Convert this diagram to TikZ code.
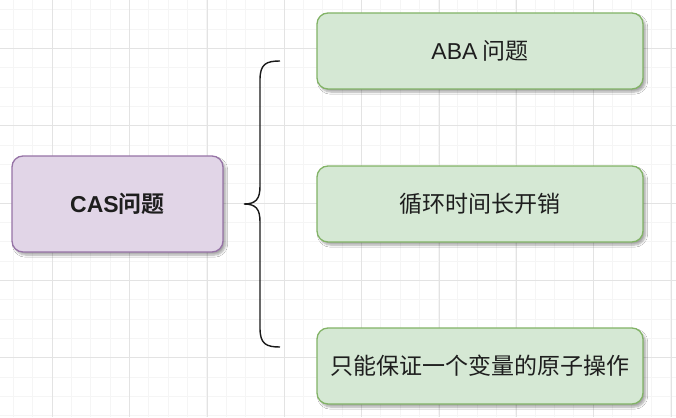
\documentclass[tikz,border=0pt]{standalone}
\usepackage{fontspec}
\setmainfont{Noto Sans CJK SC}[BoldFont={Noto Sans CJK SC Bold}]
\newfontfamily\latinfont{Liberation Sans}
\usetikzlibrary{shadows.blur}
\definecolor{purfill}{HTML}{E1D5E7}
\definecolor{purline}{HTML}{9673A6}
\definecolor{grnfill}{HTML}{D5E8D4}
\definecolor{grnline}{HTML}{82B366}
\definecolor{minorgrid}{HTML}{F5F5F5}
\definecolor{majorgrid}{HTML}{E3E3E3}
\definecolor{txt}{HTML}{1E1E1E}
\tikzset{
  boxshadow/.style={blur shadow={shadow xshift=2.5pt, shadow yshift=-3pt, shadow blur steps=6, shadow opacity=35, shadow blur extra rounding=3pt}},
  mainbox/.style={draw=purline, fill=purfill, line width=1.3pt, rounded corners=11pt, minimum width=211pt, minimum height=96pt, boxshadow, font=\fontsize{23}{26}\selectfont\bfseries, text=txt},
  itembox/.style={draw=grnline, fill=grnfill, line width=1.3pt, rounded corners=11pt, minimum width=326pt, minimum height=76pt, boxshadow, font=\fontsize{23}{26}\selectfont, text=txt},
  bracestyle/.style={draw=black!90, line width=1.4pt},
  minorline/.style={draw=minorgrid, line width=0.8pt},
  majorline/.style={draw=majorgrid, line width=0.9pt}
}
\begin{document}
\begin{tikzpicture}[x=1pt, y=-1pt]
\useasboundingbox (0,0) rectangle (676,417);
\fill[white] (0,0) rectangle (676,417);
% grid
\foreach \i in {0,...,35} {
  \draw[minorline] ({13.3+19.33*\i},0) -- ({13.3+19.33*\i},417);
}
\foreach \i in {0,...,21} {
  \draw[minorline] (0,{9.7+19.33*\i}) -- (676,{9.7+19.33*\i});
}
\foreach \i in {0,...,8} {
  \draw[majorline] ({52.3+77.33*\i},0) -- ({52.3+77.33*\i},417);
}
\foreach \i in {0,...,5} {
  \draw[majorline] (0,{48.3+77.33*\i}) -- (676,{48.3+77.33*\i});
}
% nodes
\node[mainbox] (cas) at (117.5,204) {{\latinfont\bfseries CAS}问题};
\node[itembox] (aba) at (480,51) {{\latinfont ABA} 问题};
\node[itembox] (loop) at (480,204) {循环时间长开销};
\node[itembox] (atom) at (480,366) {只能保证一个变量的原子操作};
% brace
\coordinate (btop) at (280,61);
\coordinate (btip) at (244,204);
\coordinate (bbot) at (280,347);
\draw[bracestyle] (btop) .. controls (266,61) and (260,64) .. (260,80) -- (260,186)
  .. controls (260,199) and (256,204) .. (btip)
  .. controls (256,204) and (260,209) .. (260,222) -- (260,328)
  .. controls (260,344) and (266,347) .. (bbot);
\end{tikzpicture}
\end{document}
